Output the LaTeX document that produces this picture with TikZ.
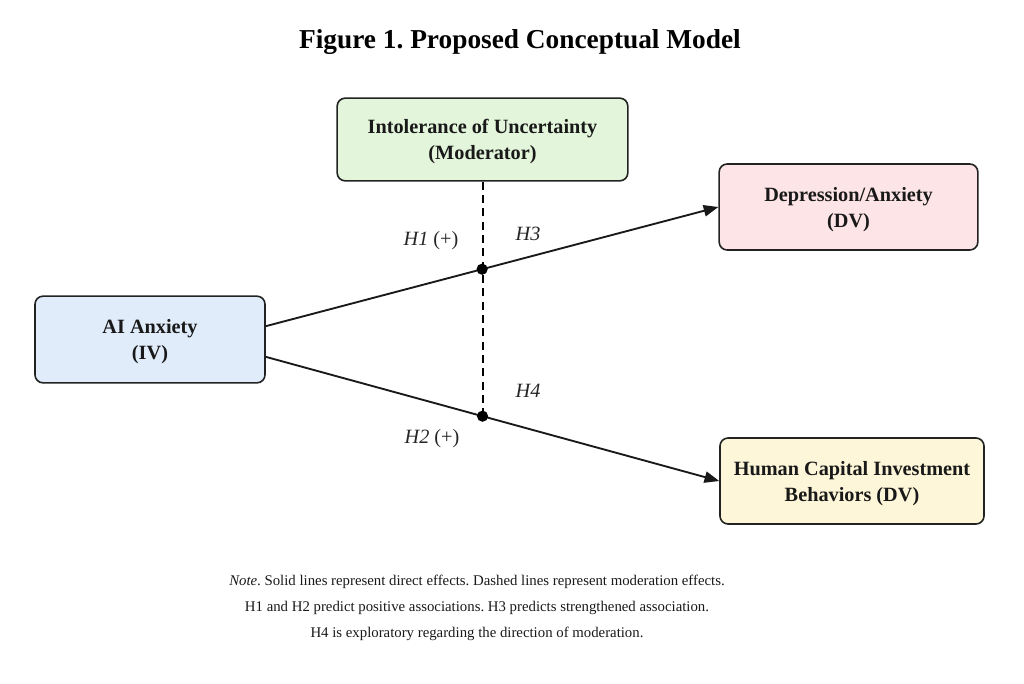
\documentclass[tikz,border=0pt]{standalone}
\usepackage{fontspec}
\setmainfont{Liberation Serif}
\frenchspacing
\usetikzlibrary{
  arrows.meta,
  positioning
}
\definecolor{modfill}{HTML}{E3F5DA}
\definecolor{ivfill}{HTML}{E1ECFB}
\definecolor{dvafill}{HTML}{FCE4E7}
\definecolor{dvbfill}{HTML}{FDF6D8}
\definecolor{edgegray}{HTML}{222222}
\tikzset{
  >={Triangle[length=11pt,width=8.5pt]},
  var/.style = {draw=edgegray, line width=1.2pt, rounded corners=6pt,
    align=center, text=black!90, text depth=-1.2pt,
    font=\fontsize{15.2}{19.5}\selectfont\bfseries},
  effect/.style = {->, line width=1.4pt, draw=black!90},
  moder/.style = {line width=1.5pt, dash pattern=on 6pt off 4pt},
  hyp/.style = {font=\fontsize{15.2}{18}\selectfont, text=black!85},
  junction/.style = {fill=black, radius=4.2pt},
}

\begin{document}
\begin{tikzpicture}[x=0.75pt, y=-0.75pt]
  \useasboundingbox (0,0) rectangle (1024,683);

  \node[font=\fontsize{20.5}{24}\selectfont\bfseries] (title) at (520,42)
      {Figure 1. Proposed Conceptual Model};

  \node[var, fill=modfill, minimum width=218pt, minimum height=62pt] (mod)
      at (482.5,139.5) {Intolerance of Uncertainty\\(Moderator)};
  \node[var, fill=ivfill, minimum width=172.5pt, minimum height=65pt] (iv)
      at (150,339.5) {AI Anxiety\\(IV)};
  \node[var, fill=dvafill, minimum width=194pt, minimum height=64.5pt] (dva)
      at (848.5,207) {Depression/Anxiety\\(DV)};
  \node[var, fill=dvbfill, minimum width=198pt, minimum height=64.5pt] (dvb)
      at (852,481) {Human Capital Investment\\Behaviors (DV)};

  % direct effects
  \draw[effect] ([yshift=10pt]iv.east) -- coordinate[pos=0.478] (j1) (dva.west);
  \draw[effect] ([yshift=-13pt]iv.east) -- coordinate[pos=0.478] (j2) (dvb.west);

  % moderation
  \draw[moder] (mod.south) -- (mod.south |- j2);
  \fill[junction] (j1) circle;
  \fill[junction] (j2) circle;

  \node[hyp] (h1) at (431,241) {\textit{H1} (+)};
  \node[hyp] (h3) at (528,234) {\textit{H3}};
  \node[hyp] (h4) at (528,391) {\textit{H4}};
  \node[hyp] (h2) at (432,439) {\textit{H2} (+)};

  \node[align=center, font=\fontsize{11.1}{19.5}\selectfont, text=black!90]
      (note) at (477,608)
      {\textit{Note}. Solid lines represent direct effects. Dashed lines represent moderation effects.\\
       H1 and H2 predict positive associations. H3 predicts strengthened association.\\
       H4 is exploratory regarding the direction of moderation.};
\end{tikzpicture}
\end{document}
